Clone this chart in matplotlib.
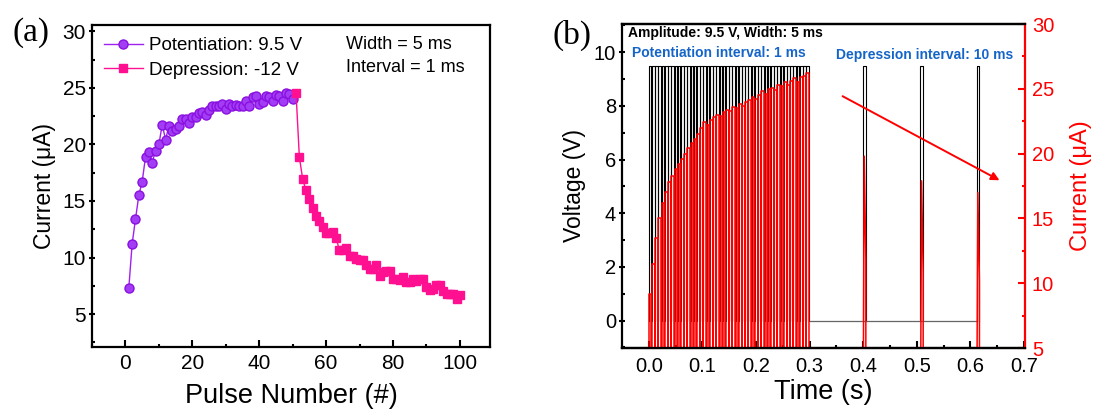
import numpy as np
import matplotlib
matplotlib.use('Agg')
from matplotlib import pyplot as plt
from matplotlib.ticker import MultipleLocator

plt.rcParams['font.family'] = ['Liberation Sans', 'DejaVu Sans']

# (a) pulse response
pot_pulse = list(range(1, 51))
pot_current = [7.3, 11.2, 13.4, 15.5, 16.7, 18.9, 19.35, 18.4, 19.45, 20.0,
               21.75, 20.4, 21.67, 21.17, 21.37, 21.67, 22.26, 22.26, 21.87, 22.4,
               22.4, 22.8, 22.85, 22.64, 23.05, 23.43, 23.43, 23.4, 23.58, 23.14,
               23.58, 23.35, 23.5, 23.43, 23.38, 23.8, 23.43, 24.22, 24.3, 23.58,
               23.72, 24.3, 24.16, 23.87, 24.4, 24.3, 23.8, 24.5, 24.45, 24.0]
dep_pulse = list(range(51, 101))
dep_current = [24.58, 18.87, 16.93, 15.93, 15.2, 14.4, 13.64, 13.23, 12.7, 12.17,
               12.17, 12.26, 11.7, 10.64, 10.7, 10.88, 10.14, 10.1, 9.9, 9.76,
               9.76, 9.38, 9.03, 9.03, 9.38, 8.35, 8.73, 8.78, 8.78, 8.15,
               8.1, 8.0, 8.3, 7.85, 7.8, 8.1, 7.95, 8.1, 8.1, 7.4,
               7.17, 7.25, 7.55, 7.6, 7.05, 6.8, 6.8, 6.8, 6.38, 6.68]

# (b) pulse train: 50 potentiation pulses, 3 depression pulses
amplitude = 9.5
width = 0.005
gap = 0.001
pot_peak = [9.2, 11.5, 13.5, 15.0, 16.2, 17.0, 17.8, 18.3, 18.8, 19.2,
            19.6, 20.0, 20.4, 20.8, 21.1, 21.5, 22.0, 22.4, 22.2, 22.6,
            22.8, 23.0, 22.9, 23.2, 23.4, 23.3, 23.6, 23.5, 23.8, 23.7,
            24.0, 24.1, 24.4, 24.2, 24.5, 24.8, 24.6, 25.0, 25.1, 24.9,
            25.3, 25.2, 25.5, 25.3, 25.6, 25.8, 25.5, 25.9, 26.0, 26.2]
dep_start = [0.400, 0.507, 0.612]
dep_peak = [19.8, 17.9, 17.0]

purple = '#A020F0'
pink = '#FF1090'
blue = '#1565C8'

fig = plt.figure(figsize=(10.94, 4.16), dpi=100)
W, H = 1094.0, 416.0
ax1 = fig.add_axes([92 / W, 1 - 347 / H, 398 / W, 322 / H])
ax2 = fig.add_axes([622 / W, 1 - 348 / H, 403 / W, 324 / H])


def style(ax, fs, xpad=5):
	for s in ax.spines.values():
		s.set_linewidth(1.6)
	ax.tick_params(axis='x', which='major', direction='in', length=5, width=1.5, pad=xpad, labelsize=fs, top=False)
	ax.tick_params(axis='x', which='minor', direction='in', length=2.5, width=1.5, top=False)
	ax.tick_params(axis='y', which='major', direction='inout', length=4.5, width=1.5, pad=2, labelsize=fs, right=False)
	ax.tick_params(axis='y', which='minor', direction='in', length=2.5, width=1.5, right=False)


# ---- panel (a)
ax1.plot([pot_pulse[-1], dep_pulse[0]], [pot_current[-1], dep_current[0]], '-', color=pink, lw=1, zorder=2)
ax1.plot(pot_pulse, pot_current, 'o-', color=purple, lw=1, mfc='#A33CF5', mec='#8A10E0', ms=6.5, zorder=3,
	label='Potentiation: 9.5 V')
ax1.plot(dep_pulse, dep_current, 's-', color=pink, lw=1, ms=6, zorder=3, label='Depression: -12 V')
ax1.set_xlim(-10, 109)
ax1.set_ylim(2.1, 30.55)
ax1.xaxis.set_major_locator(MultipleLocator(20))
ax1.xaxis.set_minor_locator(MultipleLocator(10))
ax1.yaxis.set_major_locator(MultipleLocator(5))
ax1.yaxis.set_minor_locator(MultipleLocator(2.5))
style(ax1, 15)
ax1.set_xlabel('Pulse Number (#)', fontsize=19.5, labelpad=7)
ax1.set_ylabel('Current (\u03bcA)', fontsize=16.5, labelpad=5)
leg = ax1.legend(loc='upper left', frameon=False, fontsize=13.5, handlelength=2.05,
	handletextpad=0.35, labelspacing=0.4, borderaxespad=0.55, borderpad=0.1)
ax1.text(0.638, 0.94, 'Width = 5 ms', transform=ax1.transAxes, fontsize=13, va='center')
ax1.text(0.638, 0.868, 'Interval = 1 ms', transform=ax1.transAxes, fontsize=13, va='center')

# ---- panel (b) voltage
vt, vv = [], []
for i in range(len(pot_peak)):
	t0 = i * (width + gap)
	vt += [t0, t0, t0 + width, t0 + width]
	vv += [0, amplitude, amplitude, 0]
ax2.plot(vt, vv, '-', color='black', lw=0.8)
for t0 in dep_start:
	ax2.plot([t0, t0, t0 + width, t0 + width], [0, amplitude, amplitude, 0], '-', color='black', lw=0.8)
pot_end = len(pot_peak) * (width + gap)
ax2.plot([pot_end, dep_start[-1]], [0, 0], '-', color='#666666', lw=0.9)
ax2.set_xlim(-0.05, 0.702)
ax2.set_ylim(-1.02, 11.05)
ax2.xaxis.set_major_locator(MultipleLocator(0.1))
ax2.xaxis.set_minor_locator(MultipleLocator(0.05))
ax2.yaxis.set_major_locator(MultipleLocator(2))
ax2.yaxis.set_minor_locator(MultipleLocator(1))
ax2.xaxis.set_major_formatter(matplotlib.ticker.FormatStrFormatter('%.1f'))
style(ax2, 14.5, xpad=6.5)
ax2.set_xlabel('Time (s)', fontsize=19.5, labelpad=2)
ax2.set_ylabel('Voltage (V)', fontsize=16.5, labelpad=6)
ax2.spines['right'].set_visible(False)

# ---- panel (b) current on twin axis
ax3 = ax2.twinx()
ct, cv = [], []
for i, p in enumerate(pot_peak):
	t0 = i * (width + gap)
	ct += [t0, t0, t0 + width, t0 + width]
	cv += [0, p, p, 0]
ax3.plot(ct, cv, '-', color='red', lw=1.1)
for t0, p in zip(dep_start, dep_peak):
	ax3.plot([t0, t0 + 0.002, t0 + width, t0 + width], [0, p, p * 0.6, 0], '-', color='red', lw=1.1)
ax3.set_ylim(5, 30)
ax3.yaxis.set_major_locator(MultipleLocator(5))
ax3.yaxis.set_minor_locator(MultipleLocator(2.5))
for s in ax3.spines.values():
	s.set_linewidth(1.6)
ax3.spines['right'].set_color('red')
ax3.spines['left'].set_visible(False)
ax3.tick_params(axis='y', which='major', direction='in', length=5, width=1.5, pad=5, labelsize=14.5, colors='red')
ax3.tick_params(axis='y', which='minor', direction='in', length=2.5, width=1.5, colors='red')
ax3.set_ylabel('Current (\u03bcA)', fontsize=17, color='red', labelpad=11)

ax3.annotate('', xy=(0.659, 5.18), xytext=(0.357, 8.41), xycoords=ax2.transData, textcoords=ax2.transData,
	arrowprops=dict(arrowstyle='-|>', color='red', lw=1.4, mutation_scale=12))

ax3.text(0.015, 0.972, 'Amplitude: 9.5 V, Width: 5 ms', transform=ax2.transAxes, fontsize=10,
	fontweight='bold', va='center')
ax3.text(0.025, 0.91, 'Potentiation interval: 1 ms', transform=ax2.transAxes, fontsize=10,
	fontweight='bold', color=blue, va='center')
ax3.text(0.531, 0.905, 'Depression interval: 10 ms', transform=ax2.transAxes, fontsize=10,
	fontweight='bold', color=blue, va='center')

fig.text(12 / W, 1 - 33 / H, '(a)', fontsize=24, family='Liberation Serif', va='center')
fig.text(552 / W, 1 - 35 / H, '(b)', fontsize=24, family='Liberation Serif', va='center')

fig.savefig('out.png', dpi=100)
